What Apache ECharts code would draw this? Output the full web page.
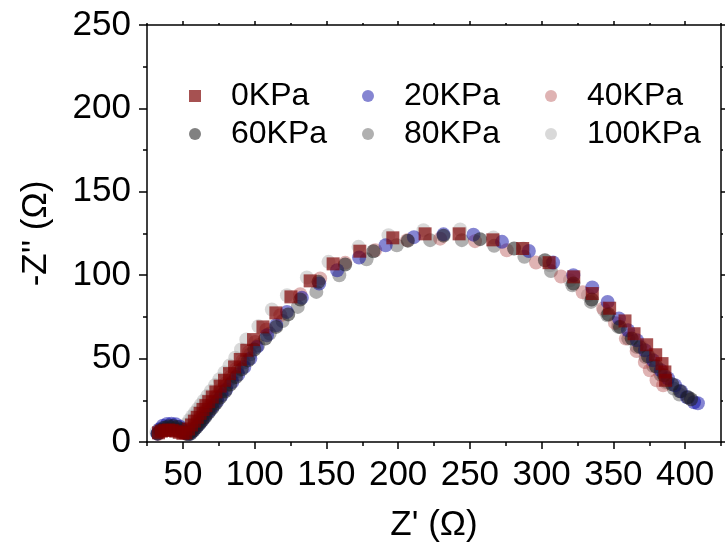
<!DOCTYPE html>
<html><head><meta charset="utf-8">
<script src="https://cdn.jsdelivr.net/npm/echarts@6/dist/echarts.min.js"></script>
<style>html,body{margin:0;padding:0;background:#fff}#c{width:725px;height:552px}</style>
</head><body><div id="c"></div>
<script>
const seriesNames = ['0KPa', '20KPa', '40KPa', '60KPa', '80KPa', '100KPa'];

const x0 = [33, 35, 37.5, 40, 42.5, 45, 47.5, 50, 52, 54, 56, 58, 60, 62, 64, 66, 68, 70.5, 73, 76, 79, 82.5, 86, 90, 94.5, 99.2, 105.8, 114.8, 125.3, 138.7, 154.7, 173.3, 196.3, 218.8, 242.5, 266.0, 286.8, 305.2, 322.4, 335.3, 347.4, 358.1, 364.4, 373.2, 379.5, 383.9, 385.9, 386.4];
const y0 = [5.5, 6.5, 7, 7.2, 7, 6.5, 5.8, 5.2, 5.6, 7.8, 10.2, 12.5, 14.8, 17.2, 19.5, 21.8, 24.2, 27, 30, 33.5, 37, 41, 45, 49.5, 55, 61.4, 69.0, 77.4, 87.0, 96.6, 106.8, 114.4, 122.4, 124.8, 124.8, 121.2, 116.0, 107.5, 99.0, 89.0, 80.2, 72.6, 64.9, 58.3, 52.3, 47.0, 42.0, 37.0];

const x20 = [32.2, 33.6, 36, 39, 42, 45, 48, 50.5, 52.5, 54.5, 56.5, 58.5, 60.5, 62.5, 64.5, 66.5, 69, 71.5, 74, 77, 80.2, 84.4, 88.6, 92.8, 97.0, 101.6, 108.6, 115.0, 122.5, 132.9, 145.0, 157.5, 172.8, 191.3, 211.0, 231.6, 252.5, 272.4, 291.1, 308.0, 322.1, 335.3, 346.0, 353.9, 360.2, 366.4, 372.0, 377.6, 383.1, 388.0, 392.9, 397.1, 401.3, 406.2, 408.9];
const y20 = [5.0, 7.5, 9.8, 10.8, 11.0, 10.6, 9.2, 7.2, 5.4, 4.8, 6.2, 8.0, 10.0, 12.0, 14.2, 16.4, 19.0, 21.8, 24.6, 28.0, 31.5, 36.0, 40.5, 45.0, 50.0, 57.0, 64.0, 70.0, 78.0, 86.5, 95.0, 103.0, 110.6, 118.0, 122.8, 124.5, 124.3, 120.0, 114.5, 107.6, 100.0, 92.6, 84.0, 74.0, 67.0, 61.0, 55.0, 49.0, 43.0, 38.2, 34.0, 30.4, 26.8, 23.8, 23.2];

const x40 = [32.8, 35, 38, 41, 44, 47, 50, 52.5, 54.5, 56.5, 58.5, 60.5, 62.5, 65, 67.5, 70, 73, 76, 79.5, 83, 87, 91.5, 96, 100.4, 108.2, 117.9, 131.8, 145.7, 163.1, 184.0, 206.3, 229.3, 253.6, 275.7, 296.1, 313.5, 328.6, 342.9, 351.1, 358.7, 366.2, 371.9, 375.4, 380.1, 384.7];
const y40 = [4.8, 6.2, 7.2, 7.6, 7.4, 6.6, 5.4, 5.0, 6.4, 8.6, 10.8, 13.0, 15.4, 18.2, 21.0, 24.0, 27.4, 31.0, 35.0, 39.0, 43.6, 48.6, 54.0, 60.0, 67.5, 76.0, 88.6, 98.0, 107.4, 115.0, 121.0, 121.9, 120.4, 115.0, 107.6, 99.2, 89.8, 80.0, 71.4, 62.0, 54.6, 48.0, 43.0, 37.0, 34.0];

const x60 = [32.5, 34.5, 37, 40, 43, 46, 49, 51.5, 53.5, 55.5, 57.5, 59.5, 61.5, 63.5, 65.5, 68, 70.5, 73, 76, 79.5, 83, 87, 91, 95.5, 99.8, 107.4, 115.0, 123.4, 131.8, 144.5, 163.1, 182.8, 206.8, 231.6, 257.1, 280.8, 302.3, 322.1, 334.9, 346.5, 354.6, 362.8, 368.5, 374.1, 379.7, 385.3, 390.9, 396.4, 402.0, 404.1];
const y60 = [5.0, 7.0, 8.6, 9.4, 9.6, 9.0, 7.6, 5.8, 4.6, 5.0, 6.8, 8.8, 10.8, 12.8, 15.0, 17.6, 20.4, 23.2, 26.6, 30.4, 34.4, 39.0, 43.6, 49.0, 55.5, 62.0, 69.0, 76.5, 85.4, 96.0, 106.4, 114.4, 120.7, 123.7, 121.6, 116.0, 109.0, 95.0, 85.4, 76.6, 69.0, 62.0, 57.0, 51.4, 45.4, 40.0, 34.6, 30.4, 26.8, 25.6];

const x80 = [32.5, 34.8, 37.5, 40.5, 43.5, 46.5, 49.5, 52, 54, 56, 58, 60, 62, 64, 66.2, 68.5, 71, 74, 77, 80.5, 84, 88, 92.5, 97, 102.5, 110.5, 119.5, 130.0, 143.0, 159.0, 178.0, 199.1, 222.3, 244.4, 266.9, 288.0, 306.5, 321.4, 334.4, 345.8, 353.4, 360.4, 366.2, 372.5, 377.8, 382.8, 387.5, 392.0, 396.0];
const y80 = [5.2, 6.8, 7.8, 8.2, 8.0, 7.2, 6.0, 5.0, 5.4, 7.2, 9.2, 11.4, 13.6, 15.8, 18.2, 20.8, 23.6, 26.8, 30.2, 34.0, 38.0, 42.6, 47.6, 52.6, 58.0, 65.0, 72.5, 81.0, 90.0, 100.0, 109.5, 118.0, 121.0, 121.0, 117.6, 111.0, 102.5, 94.0, 84.0, 76.0, 69.0, 62.0, 57.0, 51.0, 45.5, 40.5, 36.0, 32.0, 28.5];

const x100 = [31.5, 33.5, 36, 39, 42, 45, 47.5, 49, 50.5, 52.5, 54.5, 56.5, 58.5, 60.5, 62.5, 64.5, 67, 69.5, 72.5, 75.5, 79, 82.5, 86.5, 90.5, 94.2, 102.7, 112.0, 122.5, 136.4, 151.5, 172.4, 193.3, 217.7, 243.2, 266.4, 287.3, 305.9, 319.8, 332.3, 343.4, 353.2, 361.5, 369.2, 375.4, 380.3, 383.9, 386.6];
const y100 = [6.0, 7.6, 8.6, 9.0, 8.8, 8.0, 6.8, 6.2, 8.3, 10.7, 13.0, 15.4, 17.7, 20.0, 22.4, 24.7, 27.6, 30.6, 34.1, 37.6, 41.7, 45.8, 50.5, 55.5, 61.5, 69.4, 79.4, 88.0, 98.6, 108.0, 117.0, 124.0, 127.0, 127.4, 122.6, 116.0, 106.0, 97.0, 88.0, 79.0, 71.0, 64.0, 57.5, 51.0, 45.0, 40.0, 35.5];

const xMajorTicks = [50, 100, 150, 200, 250, 300, 350, 400];
const xMinorTicks = [25, 75, 125, 175, 225, 275, 325, 375, 425];

const FONT = "'Liberation Sans', Arial, sans-serif";
const pairs = (xs, ys) => xs.map((x, i) => [x, ys[i]]);
const dataSets = [pairs(x0, y0), pairs(x20, y20), pairs(x40, y40), pairs(x60, y60), pairs(x80, y80), pairs(x100, y100)];
const colors = ['rgba(125,0,0,0.85)', 'rgba(0,0,160,0.6)', 'rgba(175,65,65,0.5)', 'rgba(30,30,30,0.7)', 'rgba(90,90,90,0.6)', 'rgba(160,160,160,0.5)'];
const symbols = ['rect', 'circle', 'circle', 'circle', 'circle', 'circle'];
const sizes = [13, 14, 14, 14, 14, 14];
const zs = [7, 5, 4, 6, 3, 2];

const legendPos = [[189, 80], [362, 80], [545, 80], [189, 118], [362, 118], [545, 118]];

const chart = echarts.init(document.getElementById('c'), null, {renderer: 'canvas'});

const lineStyle = {color: '#000', width: 1.5};
const baseX = {type: 'value', min: 25, max: 425, splitLine: {show: false}, axisLine: {show: false, onZero: false}, axisLabel: {show: false}, axisTick: {show: false}};

const option = {
  animation: false,
  backgroundColor: '#fff',
  grid: {left: 147, right: 4, top: 25, bottom: 110, containLabel: false, outerBoundsMode: 'none'},
  legend: seriesNames.map((n, i) => ({
    data: [n], left: legendPos[i][0], top: legendPos[i][1],
    itemWidth: 12, itemHeight: 12, selectedMode: false, padding: 0,
    textStyle: {fontSize: 32, fontFamily: FONT, color: '#000', padding: [0, 0, 0, 25]}
  })),
  xAxis: [
    Object.assign({}, baseX, {
      position: 'bottom',
      axisLine: {show: true, onZero: false, lineStyle},
      axisTick: {show: true, inside: false, length: 7, lineStyle, customValues: xMajorTicks},
      axisLabel: {show: true, customValues: xMajorTicks, fontSize: 35, fontFamily: FONT, color: '#000', margin: 16},
      name: "Z' (\u03A9)", nameLocation: 'middle', nameGap: 66,
      nameTextStyle: {fontSize: 35, fontFamily: FONT, color: '#000'}
    }),
    Object.assign({}, baseX, {position: 'bottom', axisTick: {show: true, length: 4, lineStyle, customValues: xMinorTicks}}),
    Object.assign({}, baseX, {position: 'top', axisLine: {show: true, onZero: false, lineStyle}, axisTick: {show: true, length: 4, lineStyle, customValues: xMajorTicks}}),
    Object.assign({}, baseX, {position: 'top', axisTick: {show: true, length: 2, lineStyle, customValues: xMinorTicks}})
  ],
  yAxis: [
    {
      type: 'value', min: 0, max: 250, interval: 50, position: 'left',
      splitLine: {show: false},
      axisLine: {show: true, onZero: false, lineStyle},
      axisTick: {show: true, length: 8, lineStyle},
      minorTick: {show: true, splitNumber: 2, length: 4, lineStyle},
      axisLabel: {fontSize: 35, fontFamily: FONT, color: '#000', margin: 16},
      name: "-Z'' (\u03A9)", nameLocation: 'middle', nameGap: 93, nameRotate: 90,
      nameTextStyle: {fontSize: 35, fontFamily: FONT, color: '#000'}
    },
    {
      type: 'value', min: 0, max: 250, interval: 50, position: 'right',
      splitLine: {show: false},
      axisLine: {show: true, onZero: false, lineStyle},
      axisTick: {show: true, length: 4, lineStyle},
      minorTick: {show: true, splitNumber: 2, length: 2, lineStyle},
      axisLabel: {show: false}
    }
  ],
  series: seriesNames.map((n, i) => ({
    name: n, type: 'scatter', xAxisIndex: 0, yAxisIndex: 0,
    symbol: symbols[i], symbolSize: sizes[i], z: zs[i],
    itemStyle: {color: colors[i]},
    data: dataSets[i]
  }))
};
chart.setOption(option);
</script></body></html>
